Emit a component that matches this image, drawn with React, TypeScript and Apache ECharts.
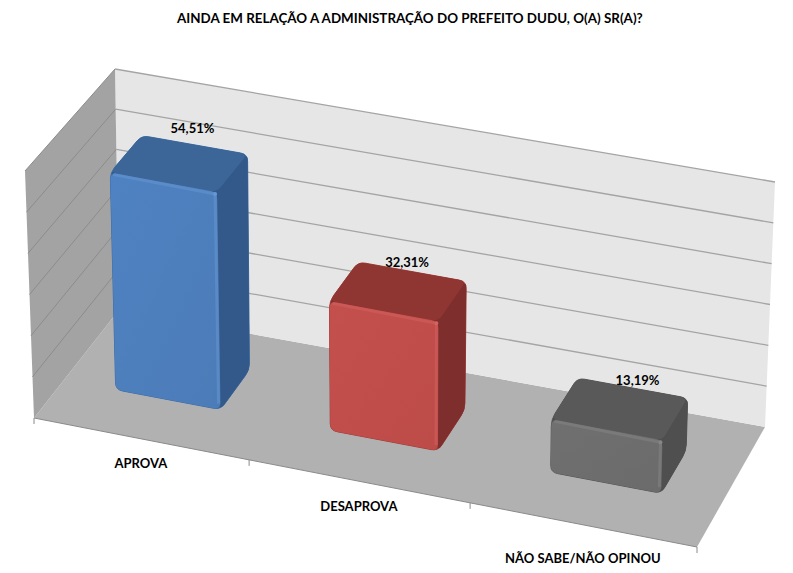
import React, { useEffect, useRef } from "react";
import * as echarts from "echarts";

const titleText = "AINDA EM RELAÇÃO A ADMINISTRAÇÃO DO PREFEITO DUDU, O(A) SR(A)?";
const categories = ["APROVA", "DESAPROVA", "NÃO SABE/NÃO OPINOU"];
const values = [54.51, 32.31, 13.19];
const valueLabels = ["54,51%", "32,31%", "13,19%"];
const gridValues = [0, 10, 20, 30, 40, 50, 60];

const W = 793;
const H = 573;
const FONT = "Lato, sans-serif";

// Pixel corners of the floor and the "up" vector (full axis height) at each corner
const FL = [34, 418], FR = [697, 547], BR = [765, 427], BL = [119, 310];
const UP_FL = [-9, -247], UP_FR = [5, -250], UP_BR = [10, -245], UP_BL = [-4, -241];
const V_FRONT = 0.353, V_BACK = 0.71, HALF_U = 0.082, BAR_SCALE = 0.975, BAR_SHIFT = -0.003;

const PALETTE = [
  { front: "#4f82c2", frontDark: "#4c7cb8", top: "#3c6598", side: "#33598a", hi: "#6597d4", edge: "#3d6ea8" },
  { front: "#c4504d", frontDark: "#bd4b48", top: "#8f3532", side: "#7e2f2d", hi: "#d4625f", edge: "#a33d3a" },
  { front: "#707070", frontDark: "#6b6b6b", top: "#595959", side: "#4f4f4f", hi: "#868686", edge: "#555555" },
];
const LABEL_DROP = [24, 25, 33];
const VALUE_LABEL_SHIFT = [[-2, -17], [-5, -10], [5, -8]];

const bil = (a: number[], b: number[], c: number[], d: number[], u: number, v: number, k: number) =>
  (1 - v) * ((1 - u) * a[k] + u * b[k]) + v * ((1 - u) * d[k] + u * c[k]);

const warp = (u: number) => u - 0.04 * u * (1 - u);

// u: 0..1 across, v: 0 front..1 back, h: 0..1 up
function project(u0: number, v: number, h: number): number[] {
  const u = warp(u0);
  return [
    bil(FL, FR, BR, BL, u, v, 0) + h * bil(UP_FL, UP_FR, UP_BR, UP_BL, u, v, 0),
    bil(FL, FR, BR, BL, u, v, 1) + h * bil(UP_FL, UP_FR, UP_BR, UP_BL, u, v, 1),
  ];
}

function rounded(points: number[][], r: number): string {
  const n = points.length;
  let d = "";
  for (let i = 0; i < n; i++) {
    const p = points[i], a = points[(i + n - 1) % n], b = points[(i + 1) % n];
    const la = Math.hypot(a[0] - p[0], a[1] - p[1]), lb = Math.hypot(b[0] - p[0], b[1] - p[1]);
    const ra = Math.min(r, la / 2), rb = Math.min(r, lb / 2);
    const s = [p[0] + ((a[0] - p[0]) * ra) / la, p[1] + ((a[1] - p[1]) * ra) / la];
    const e = [p[0] + ((b[0] - p[0]) * rb) / lb, p[1] + ((b[1] - p[1]) * rb) / lb];
    d += `${i === 0 ? "M" : "L"}${s[0]} ${s[1]}Q${p[0]} ${p[1]} ${e[0]} ${e[1]}`;
  }
  return d + "Z";
}

const poly = (pts: number[][]) => pts.map((p) => [p[0], p[1]]);

function renderFrame(params: any, api: any) {
  const h = (H - api.coord([0, api.value(1)])[1]) / H;
  const children: any[] = [];
  if (params.dataIndex === 0) {
    children.push(
      { type: "polygon", shape: { points: poly([project(0, 0, 0), project(0, 1, 0), project(1, 1, 0), project(1, 0, 0)]) }, style: { fill: "#b1b1b1" } },
      { type: "polygon", shape: { points: poly([project(0, 1, 0), project(0, 1, 1), project(1, 1, 1), project(1, 1, 0)]) }, style: { fill: "#e6e6e6" } },
      {
        type: "polygon",
        shape: { points: poly([project(0, 0, 0), project(0, 0, 1), project(0, 1, 1), project(0, 1, 0)]) },
        style: { fill: "#a3a3a3" },
      },
      ...[0, 1 / 3, 2 / 3, 1].map((u) => {
        const p = project(u, 0, 0);
        return { type: "line", shape: { x1: p[0], y1: p[1], x2: p[0], y2: p[1] + 6 }, style: { stroke: "#8a8a8a", lineWidth: 1 } };
      }),
      { type: "line", shape: { x1: project(0, 0, 0)[0], y1: project(0, 0, 0)[1], x2: project(1, 0, 0)[0], y2: project(1, 0, 0)[1] }, style: { stroke: "#8a8a8a", lineWidth: 1 } }
    );
  }
  const a = project(0, 0, h), b = project(0, 1, h), c = project(1, 1, h);
  if (h > 0) {
    children.push(
      { type: "line", shape: { x1: a[0], y1: a[1], x2: b[0], y2: b[1] }, style: { stroke: "#8c8c8c", lineWidth: 1 } },
      { type: "line", shape: { x1: b[0], y1: b[1], x2: c[0], y2: c[1] }, style: { stroke: "#a4a4a4", lineWidth: 1.3 } }
    );
  }
  return { type: "group", children };
}

function renderBar(params: any, api: any) {
  const i = params.dataIndex;
  const pal = PALETTE[i];
  const c = api.coord([i, api.value(1)]);
  const uc = c[0] / W + BAR_SHIFT;
  const h = ((H - c[1]) / H) * BAR_SCALE;
  const u0 = uc - HALF_U, u1 = uc + HALF_U;
  const fbl = project(u0, V_FRONT, 0), fbr = project(u1, V_FRONT, 0);
  const bbr = project(u1, V_BACK, 0);
  const ftl = project(u0, V_FRONT, h), ftr = project(u1, V_FRONT, h);
  const btl = project(u0, V_BACK, h), btr = project(u1, V_BACK, h);
  const mid = project(uc, V_BACK, h);
  const base = project(c[0] / W, 0, 0);
  const shift = VALUE_LABEL_SHIFT[i];
  return {
    type: "group",
    children: [
      { type: "path", shape: { pathData: rounded([fbl, fbr, bbr, btr, btl, ftl], 7) }, style: { fill: pal.side, stroke: pal.edge, lineWidth: 1 } },
      { type: "path", shape: { pathData: rounded([ftl, ftr, btr, btl], 7) }, style: { fill: pal.top } },
      { type: "path", shape: { pathData: rounded([ftr, fbr, bbr, btr], 6) }, style: { fill: pal.side } },
      {
        type: "path",
        shape: { pathData: rounded([ftl, ftr, fbr, fbl], 7) },
        style: {
          fill: new echarts.graphic.LinearGradient(0, 0, 1, 1, [
            { offset: 0, color: pal.front },
            { offset: 1, color: pal.frontDark },
          ]),
        },
      },
      { type: "polyline", shape: { points: poly([[ftl[0] + 3, ftl[1] + 2], [ftr[0] - 2, ftr[1] + 2], [fbr[0] - 2, fbr[1] - 6]]) }, style: { fill: "none", stroke: pal.hi, lineWidth: 3, opacity: 0.5 } },
      { type: "circle", shape: { cx: ftr[0] - 2, cy: ftr[1] + 2, r: 2 }, style: { fill: pal.hi } },
      {
        type: "text",
        x: mid[0] + shift[0],
        y: mid[1] + shift[1],
        style: { text: valueLabels[i], fill: "#000000", font: `bold 13px ${FONT}`, align: "center", verticalAlign: "middle" },
      },
      {
        type: "text",
        x: base[0],
        y: base[1] + LABEL_DROP[i],
        style: { text: categories[i], fill: "#000000", font: `bold 13px ${FONT}`, align: "center", verticalAlign: "middle" },
      },
    ],
  };
}

export default function App() {
  const ref = useRef<HTMLDivElement>(null);
  useEffect(() => {
    const chart = echarts.init(ref.current!, undefined, { renderer: "svg" });
    chart.setOption({
      animation: false,
      backgroundColor: "#ffffff",
      title: {
        text: titleText,
        left: 172,
        top: 6,
        textStyle: { fontFamily: FONT, fontWeight: "bold", fontSize: 13.4, color: "#000000" },
      },
      grid: { left: 0, top: 0, width: W, height: H, containLabel: false },
      xAxis: { type: "category", data: categories, show: false },
      yAxis: { type: "value", min: 0, max: 60, interval: 10, show: false },
      series: [
        {
          type: "custom",
          coordinateSystem: "cartesian2d",
          silent: true,
          clip: false,
          z: 1,
          data: gridValues.map((v) => [0, v]),
          renderItem: renderFrame,
        },
        {
          type: "custom",
          coordinateSystem: "cartesian2d",
          clip: false,
          z: 2,
          data: values.map((v, i) => [i, v]),
          renderItem: renderBar,
        },
      ],
    });
    return () => chart.dispose();
  }, []);
  return <div ref={ref} style={{ position: "fixed", left: 0, top: 0, width: W, height: H }} />;
}
